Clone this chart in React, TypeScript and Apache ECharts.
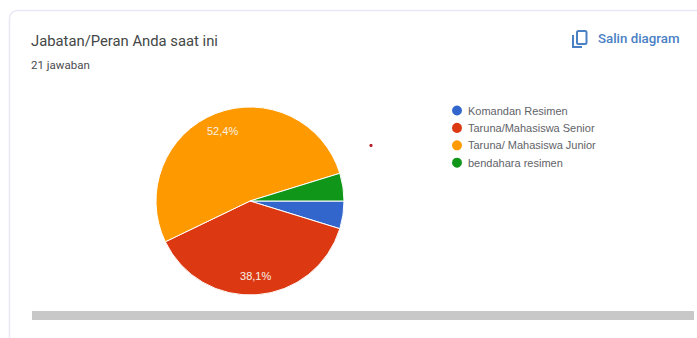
import React, { useEffect, useRef } from "react";
import * as echarts from "echarts";

const roles = [
  "Komandan Resimen",
  "Taruna/Mahasiswa Senior",
  "Taruna/ Mahasiswa Junior",
  "bendahara resimen",
];
const answers = [1, 8, 11, 1];
const sliceColors = ["#3366cc", "#dc3912", "#ff9900", "#109618"];
const FONT = "Roboto, 'Noto Sans', sans-serif";
const CHART_FONT = "'Liberation Sans', Arial, sans-serif";
const MIN_LABELLED_PERCENT = 10;

function percentLabel(p: { percent: number }) {
  if (p.percent < MIN_LABELLED_PERCENT) return "";
  return p.percent.toFixed(1).replace(".", ",") + "%";
}

export default function App() {
  const ref = useRef<HTMLDivElement>(null);

  useEffect(() => {
    const chart = echarts.init(ref.current!, null, { renderer: "svg" });
    const pieData = roles.map((name, i) => ({
      name,
      value: answers[i],
      itemStyle: { color: sliceColors[i] },
    }));

    chart.setOption({
      animation: false,
      backgroundColor: "#ffffff",
      legend: {
        orient: "vertical",
        left: 450,
        top: 103.5,
        padding: 0,
        icon: "circle",
        itemWidth: 12,
        itemHeight: 12,
        itemGap: 3.4,
        textStyle: { color: "#5f6368", fontSize: 11, fontFamily: CHART_FONT, lineHeight: 11 },
        data: roles,
      },
      graphic: [
        // Card outline
        {
          type: "rect",
          z: -1,
          shape: { x: 9.5, y: 10.5, width: 800, height: 400, r: 8 },
          style: { fill: "#ffffff", stroke: "#e8e8f6", lineWidth: 1.5 },
        },
        {
          type: "text",
          x: 31,
          y: 33,
          style: { text: "Jabatan/Peran Anda saat ini", fill: "#444746", font: `14.8px ${FONT}` },
        },
        {
          type: "text",
          x: 31,
          y: 59,
          style: { text: "21 jawaban", fill: "#4a4d50", font: `11.5px ${FONT}` },
        },
        // Copy icon
        {
          type: "rect",
          shape: { x: 577, y: 31, width: 9.5, height: 13, r: 1.5 },
          style: { fill: "none", stroke: "#4a80c4", lineWidth: 2 },
        },
        {
          type: "polyline",
          shape: { points: [[573, 35], [573, 47], [582, 47]] },
          style: { fill: "none", stroke: "#4a80c4", lineWidth: 2 },
        },
        {
          type: "text",
          x: 598,
          y: 32,
          style: { text: "Salin diagram", fill: "#4a80c4", font: `500 13.3px ${FONT}` },
        },
        // Stray marker beside the pie
        {
          type: "circle",
          shape: { cx: 371, cy: 145.5, r: 1.6 },
          style: { fill: "#b5232c" },
        },
        // Horizontal scrollbar
        {
          type: "rect",
          shape: { x: 32, y: 311, width: 662, height: 9 },
          style: { fill: "#c8c8c8" },
        },
      ],
      series: [
        {
          type: "pie",
          center: [250, 201],
          radius: [0, 94],
          startAngle: 0,
          clockwise: true,
          silent: true,
          itemStyle: { borderColor: "#ffffff", borderWidth: 1 },
          label: { show: false },
          labelLine: { show: false },
          data: pieData,
        },
        // Invisible ring that seats the percentages near the rim
        {
          type: "pie",
          center: [250, 201],
          radius: [50, 94],
          startAngle: 0,
          clockwise: true,
          silent: true,
          legendHoverLink: false,
          itemStyle: { color: "transparent", borderWidth: 0 },
          label: {
            show: true,
            position: "inside",
            formatter: percentLabel,
            color: "#f5f0e6",
            fontSize: 11,
            fontFamily: CHART_FONT,
          },
          labelLine: { show: false },
          data: roles.map((name, i) => ({ name: `${name} `, value: answers[i] })),
        },
      ],
    });

    return () => chart.dispose();
  }, []);

  return (
    <div
      ref={ref}
      style={{ position: "fixed", left: 0, top: 0, width: 697, height: 338 }}
    />
  );
}
